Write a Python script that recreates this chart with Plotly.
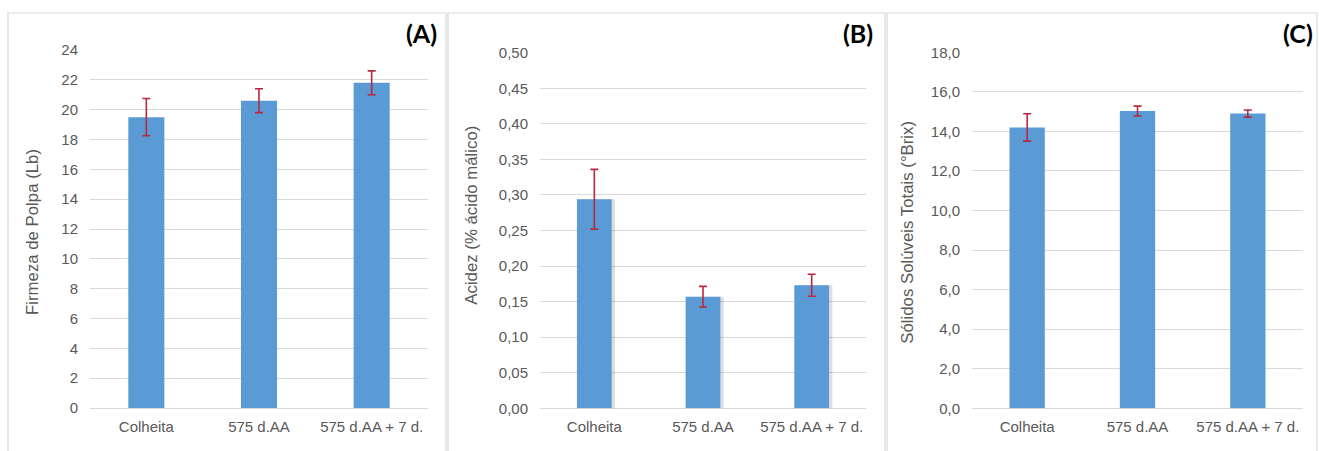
import plotly.graph_objects as go

W, H = 1319, 451

categories = ["Colheita", "575 d.AA", "575 d.AA + 7 d."]

firmeza = [19.5, 20.6, 21.8]
firmeza_err = [1.25, 0.8, 0.8]

acidez = [0.294, 0.157, 0.173]
acidez_err = [0.042, 0.0145, 0.0155]

solidos = [14.2, 15.03, 14.9]
solidos_err = [0.69, 0.25, 0.18]

titles = ["Firmeza de Polpa (Lb)", "Acidez (% ácido málico)", "Sólidos Solúveis Totais (°Brix)"]
panel_labels = ["(A)", "(B)", "(C)"]

BAR = "#5B9BD5"
ERR = "#B8283F"
GRID = "#D9D9D9"
TXT = "#595959"
FONT = "Liberation Sans, Arial, sans-serif"

def px_x(p):
    return p / W

def px_y(p):
    return 1 - p / H

# plot areas in pixels: (x0, x1, ytop, ybottom)
areas = [(90, 428, 50, 408), (540, 866, 52.7, 408.3), (972, 1303, 52.3, 408.3)]
ranges = [[0, 24], [0, 0.5], [0, 18]]
dticks = [2, 0.05, 2]
fmts = ["d", ".2f", ".1f"]
frames = [(8, 446), (448, 885), (887, 1317)]
title_pos = [(32, 232), (470.7, 215), (906.7, 232)]
label_pos = [439, 875, 1315]

fig = go.Figure()

data = [(firmeza, firmeza_err), (acidez, acidez_err), (solidos, solidos_err)]

for i, (vals, errs) in enumerate(data):
    xa = "x" if i == 0 else f"x{i+1}"
    ya = "y" if i == 0 else f"y{i+1}"
    if i == 1:
        fig.add_trace(go.Bar(
            x=categories, y=vals, xaxis=xa, yaxis=ya,
            width=0.32, offset=-0.16 + 0.03,
            marker=dict(color="rgba(0,0,0,0.13)", line=dict(width=0)),
            hoverinfo="skip", showlegend=False,
        ))
    fig.add_trace(go.Bar(
        x=categories, y=vals, xaxis=xa, yaxis=ya,
        width=0.32, offset=-0.16,
        marker=dict(color=BAR, line=dict(width=0)),
        error_y=dict(type="data", array=errs, visible=True,
                     color=ERR, thickness=1.6, width=4),
        showlegend=False,
    ))

layout = dict(
    width=W, height=H,
    autosize=False,
    margin=dict(l=0, r=0, t=0, b=0, pad=0),
    paper_bgcolor="white", plot_bgcolor="white",
    barmode="overlay",
    separators=",.",
    font=dict(family=FONT, color=TXT, size=14),
    showlegend=False,
)

for i in range(3):
    x0, x1, yt, yb = areas[i]
    sx = "xaxis" if i == 0 else f"xaxis{i+1}"
    sy = "yaxis" if i == 0 else f"yaxis{i+1}"
    ya = "y" if i == 0 else f"y{i+1}"
    xa = "x" if i == 0 else f"x{i+1}"
    layout[sx] = dict(
        domain=[px_x(x0), px_x(x1)], anchor=ya, automargin=False,
        showgrid=False, showline=False, zeroline=False,
        ticks="", tickfont=dict(size=15, color=TXT, family=FONT),
        ticklabelstandoff=8, fixedrange=True,
    )
    layout[sy] = dict(
        domain=[px_y(yb), px_y(yt)], anchor=xa, automargin=False,
        range=ranges[i], dtick=dticks[i], tick0=0, tickformat=fmts[i],
        showgrid=True, gridcolor=GRID, gridwidth=1,
        zeroline=True, zerolinecolor=GRID, zerolinewidth=1,
        showline=False, ticks="",
        tickfont=dict(size=15, color=TXT, family=FONT),
        ticklabelstandoff=11, fixedrange=True,
    )

fig.update_layout(**layout)

shapes = []
for (fx0, fx1) in frames:
    shapes.append(dict(type="rect", xref="paper", yref="paper",
                       x0=px_x(fx0), x1=px_x(fx1), y0=px_y(452), y1=px_y(13),
                       line=dict(color="#D9D9D9", width=1.2), fillcolor="rgba(0,0,0,0)",
                       layer="below"))
fig.update_layout(shapes=shapes)

annotations = []
for i in range(3):
    tx, ty = title_pos[i]
    annotations.append(dict(
        text=titles[i], xref="paper", yref="paper",
        x=px_x(tx), y=px_y(ty), xanchor="center", yanchor="middle",
        textangle=-90, showarrow=False,
        font=dict(size=16.8, color=TXT, family=FONT),
    ))
    annotations.append(dict(
        text="<b>" + panel_labels[i] + "</b>", xref="paper", yref="paper",
        x=px_x(label_pos[i]), y=px_y(33), xanchor="right", yanchor="middle",
        showarrow=False,
        font=dict(size=25, color="#000000", family="Lato, Open Sans, sans-serif"),
    ))
fig.update_layout(annotations=annotations)

fig.write_html("out.html", config={"displayModeBar": False, "staticPlot": False},
               post_script="document.body.style.margin='0';document.body.style.overflow='hidden';")
